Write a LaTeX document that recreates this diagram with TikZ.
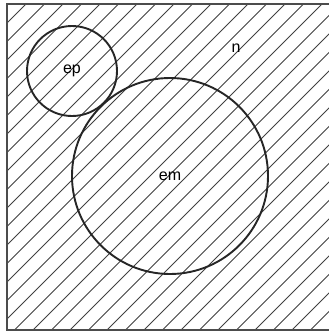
\documentclass[tikz,border=0pt]{standalone}
\usepackage{fontspec}
\setmainfont{Liberation Sans}
\begin{document}
\begin{tikzpicture}[x=1pt,y=-1pt,
    hatchLine/.style={black!75,line width=0.9pt},
    frameLine/.style={black!70,line width=1.4pt},
    setCirc/.style={circle,draw=black!85,line width=1.9pt,font=\fontsize{16}{16}\selectfont},
]
\useasboundingbox (0,0) rectangle (329,333);
% Hatching
\begin{scope}
\clip (7,4) rectangle (329,330);
\foreach \a in {-340,-321.5,...,340}
  \draw[hatchLine] (\a,333) -- (\a+333,0);
\end{scope}
% Frame
\draw[frameLine] (329,4) -- (7,4) -- (7,330) -- (329,330);
% Sets
\node[setCirc,minimum size=90] (ep) at (72,71) {ep};
\node[setCirc,minimum size=196] (em) at (170,176) {em};
\node[font=\fontsize{16}{16}\selectfont] (n) at (236,48) {n};
\end{tikzpicture}
\end{document}
